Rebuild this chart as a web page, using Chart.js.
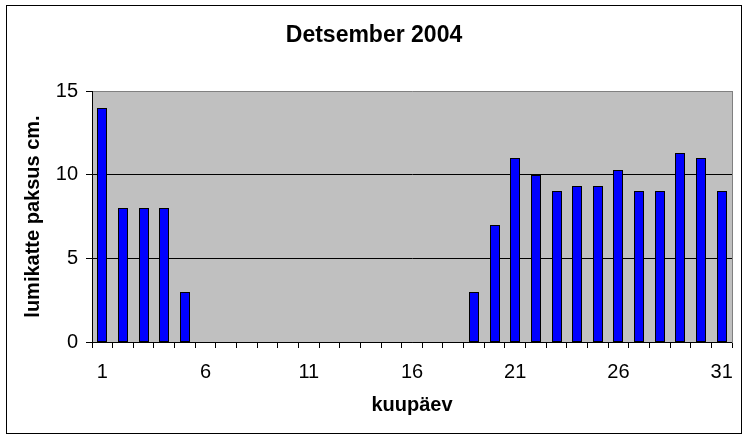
<!DOCTYPE html>
<html>
<head>
<meta charset="utf-8">
<script src="https://cdn.jsdelivr.net/npm/chart.js@4"></script>
<style>
html,body{margin:0;padding:0;background:#fff;}
canvas{display:block;}
</style>
</head>
<body>
<canvas id="c" width="748" height="440"></canvas>
<script>
const chartTitle = "Detsember 2004";
const xTitle = "kuupäev";
const yTitle = "lumikatte paksus cm.";
const days = [1,2,3,4,5,6,7,8,9,10,11,12,13,14,15,16,17,18,19,20,21,22,23,24,25,26,27,28,29,30,31];
const snowDepth = [14,8,8,8,3,0,0,0,0,0,0,0,0,0,0,0,0,0,3,7,11,10,9,9.3,9.3,10.3,9,9,11.3,11,9];
const shownDayLabels = [1,6,11,16,21,26,31];
const yTicks = [0,5,10,15];

const FONT = "'Liberation Sans', Arial, sans-serif";

const bgPlugin = {
  id: 'bg',
  beforeDraw(chart) {
    const {ctx, chartArea: a} = chart;
    ctx.save();
    ctx.fillStyle = '#C0C0C0';
    ctx.fillRect(a.left, a.top, a.right - a.left, a.bottom - a.top);
    ctx.restore();
  },
  beforeDatasetsDraw(chart) {
    // snap bars to whole pixels for crisp 1px borders
    chart.getDatasetMeta(0).data.forEach(el => {
      el.x = Math.round(el.x);
      el.width = Math.round(el.width);
      el.y = Math.round(el.y);
      el.base = Math.round(el.base);
    });
  },
  afterDraw(chart) {
    const ctx = chart.ctx;
    ctx.save();
    ctx.strokeStyle = '#000';
    ctx.lineWidth = 1;
    ctx.strokeRect(6.5, 5.5, 735, 428);
    ctx.restore();
  }
};

new Chart(document.getElementById('c'), {
  type: 'bar',
  data: {
    labels: days,
    datasets: [{
      data: snowDepth,
      backgroundColor: '#0000FF',
      borderColor: '#000000',
      borderWidth: 1,
      borderSkipped: false,
      categoryPercentage: 1.0,
      barPercentage: 0.48
    }]
  },
  options: {
    responsive: false,
    animation: false,
    devicePixelRatio: 1,
    layout: { padding: 0 },
    plugins: {
      legend: { display: false },
      tooltip: { enabled: false },
      title: {
        display: true,
        text: chartTitle,
        color: '#000',
        font: { family: FONT, size: 23, weight: 'bold', lineHeight: 1.2 },
        padding: { top: 22.2, bottom: 41.2 }
      }
    },
    scales: {
      x: {
        position: 'bottom',
        grid: {
          offset: true,
          drawOnChartArea: false,
          drawTicks: true,
          tickLength: 6,
          color: '#000',
          tickColor: '#000'
        },
        border: { display: true, color: '#000', width: 1 },
        ticks: {
          autoSkip: false,
          maxRotation: 0,
          minRotation: 0,
          padding: 12,
          color: '#000',
          font: { family: FONT, size: 20, lineHeight: 1.2 },
          callback: function(value, index) {
            const d = days[index];
            return shownDayLabels.includes(d) ? String(d) : '';
          }
        },
        title: {
          display: true,
          text: xTitle,
          color: '#000',
          font: { family: FONT, size: 20, weight: 'bold', lineHeight: 1.2 },
          padding: { top: 0, bottom: 23 }
        },
        afterFit(scale) { scale.height = 98; }
      },
      y: {
        position: 'left',
        min: 0,
        max: 15,
        afterBuildTicks(scale) { scale.ticks = yTicks.map(v => ({ value: v })); },
        grid: {
          drawTicks: true,
          tickLength: 6,
          color: (ctx) => (ctx.tick && ctx.tick.value === 15) ? '#808080' : '#000',
          tickColor: '#000',
          lineWidth: 1
        },
        border: { display: true, color: '#000', width: 1 },
        ticks: {
          padding: 8,
          color: '#000',
          font: { family: FONT, size: 20, lineHeight: 1.2 }
        },
        title: {
          display: true,
          text: yTitle,
          color: '#000',
          font: { family: FONT, size: 20, weight: 'bold', lineHeight: 1.2 },
          padding: { top: 21, bottom: 0 }
        },
        afterFit(scale) { scale.width = 92; }
      },
      yRight: {
        position: 'right',
        min: 0,
        max: 15,
        display: true,
        grid: { display: false, drawTicks: false },
        ticks: { display: false },
        border: { display: true, color: '#808080', width: 1 },
        afterFit(scale) { scale.width = 16; }
      }
    }
  },
  plugins: [bgPlugin]
});
</script>
</body>
</html>
